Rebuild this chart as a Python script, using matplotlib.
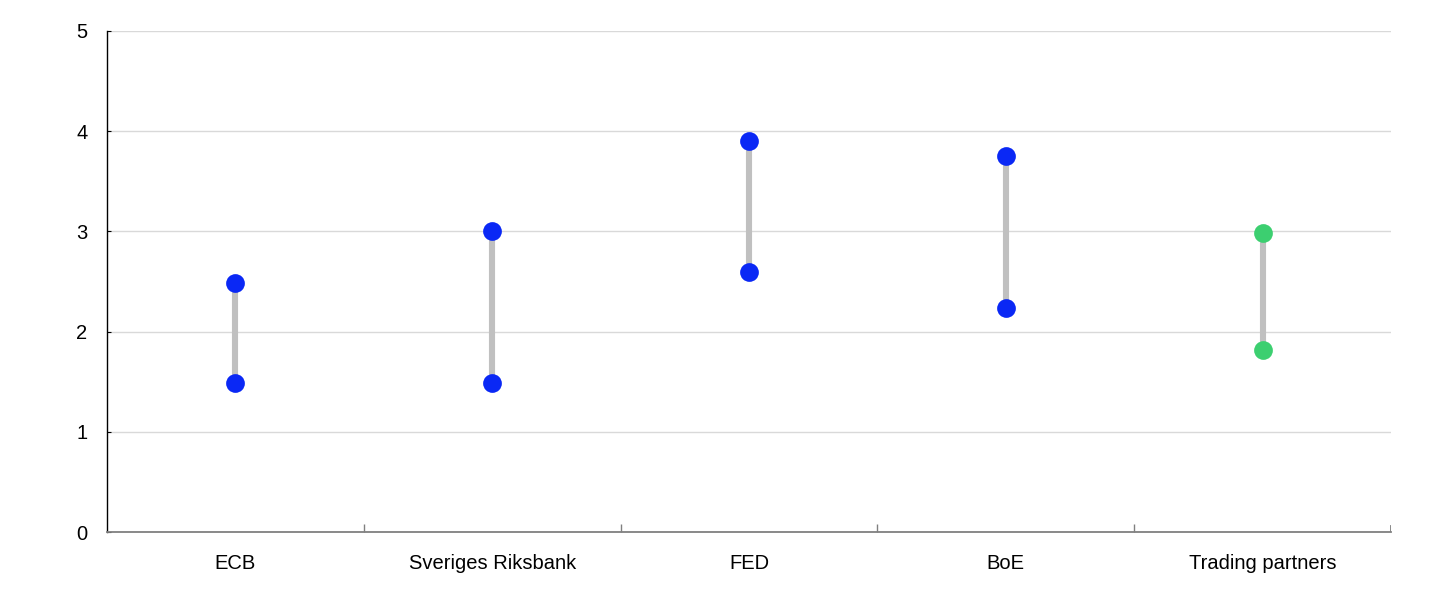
import matplotlib
matplotlib.use("Agg")
import matplotlib.pyplot as plt
import numpy as np

# Range of policy rate expectations per central bank
banks = ["ECB", "Sveriges Riksbank", "FED", "BoE", "Trading partners"]
low_values = [1.49, 1.49, 2.59, 2.24, 1.82]
high_values = [2.49, 3.0, 3.9, 3.75, 2.98]
dot_colors = ["#0a28f5", "#0a28f5", "#0a28f5", "#0a28f5", "#3ccf70"]

plt.rcParams["font.family"] = ["Liberation Sans", "DejaVu Sans"]

fig = plt.figure(figsize=(14.45, 5.99), dpi=100)
ax = fig.add_axes([107 / 1445, 67 / 599, 1284 / 1445, 501 / 599])

x = np.arange(len(banks))
for i in x:
    ax.plot([i, i], [low_values[i], high_values[i]], color="#c0c0c0",
            lw=4.4, solid_capstyle="butt", zorder=2)
    ax.plot([i, i], [low_values[i], high_values[i]], linestyle="none",
            marker="o", markersize=13.5, color=dot_colors[i],
            markeredgewidth=0, zorder=3)

ax.set_xlim(-0.5, len(banks) - 0.5)
ax.set_ylim(0, 5)
ax.set_yticks(range(0, 6))
ax.set_xticks(x)
ax.set_xticklabels(banks)
ax.set_xticks(np.arange(0.5, len(banks) - 1), minor=True)

ax.grid(axis="y", color="#d9d9d9", lw=1)
ax.set_axisbelow(True)

for s in ["top", "right"]:
    ax.spines[s].set_visible(False)
ax.spines["left"].set_color("black")
ax.spines["left"].set_linewidth(1)
ax.spines["bottom"].set_color("#808080")
ax.spines["bottom"].set_linewidth(1.3)

ax.tick_params(axis="x", which="major", length=0, pad=16, labelsize=14.5)
ax.tick_params(axis="x", which="minor", direction="in", length=6,
               width=1, color="#808080")
ax.tick_params(axis="y", direction="in", length=3, pad=14, labelsize=14.5)

# closing tick at the right end of the category axis
ax.axvline(len(banks) - 0.5, ymin=0, ymax=6 / 501, color="#808080", lw=1.3)

fig.savefig("out.png", dpi=100)
